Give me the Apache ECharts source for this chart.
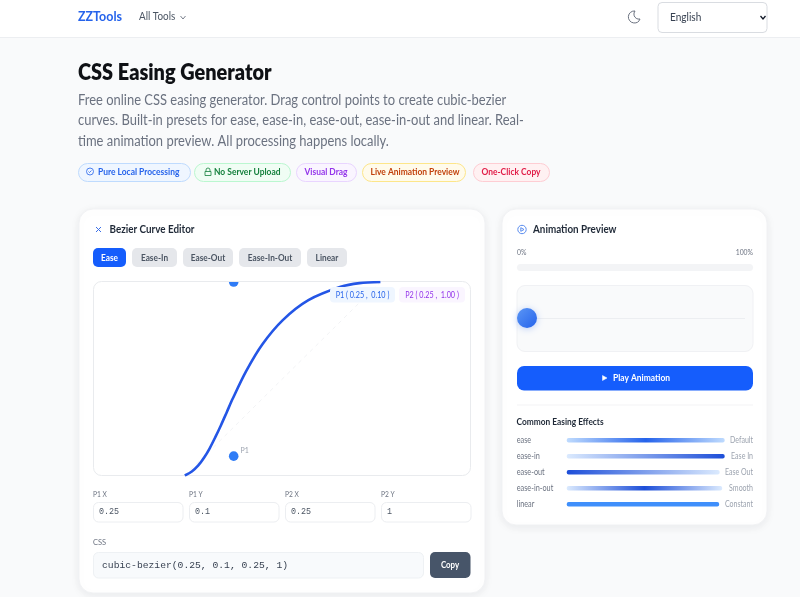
<!DOCTYPE html>
<html>
<head>
<meta charset="utf-8">
<title>CSS Easing Generator</title>
<script src="https://cdn.jsdelivr.net/npm/echarts@6/dist/echarts.min.js"></script>
<style>
html, body { margin: 0; padding: 0; background: #f9fafb; }
#main { width: 800px; height: 597px; }
</style>
</head>
<body>
<div id="main"></div>
<script>
var curveX = [0, 0.036, 0.069, 0.099, 0.128, 0.156, 0.185, 0.214, 0.244, 0.313, 0.396, 0.501, 0.632, 0.797, 0.893, 1];
var curveY = [0, 0.021, 0.052, 0.093, 0.142, 0.198, 0.26, 0.326, 0.395, 0.538, 0.677, 0.803, 0.906, 0.975, 0.994, 1];
var diagonalX = [0, 1];
var diagonalY = [0, 1];
var controlX = [0.25, 0.25];
var controlY = [0.1, 1];
var controlNames = ['P1', ''];

var presetNames = ['Ease', 'Ease-In', 'Ease-Out', 'Ease-In-Out', 'Linear'];
var inputNames = ['P1 X', 'P1 Y', 'P2 X', 'P2 Y'];
var inputValues = ['0.25', '0.1', '0.25', '1'];
var cssValue = 'cubic-bezier(0.25, 0.1, 0.25, 1)';

var easingNames = ['ease', 'ease-in', 'ease-out', 'ease-in-out', 'linear'];
var easingNotes = ['Default', 'Ease In', 'Ease Out', 'Smooth', 'Constant'];
var easingLengths = [158, 158, 153, 155.5, 152.5];

var descLines = [
    'Free online CSS easing generator. Drag control points to create cubic-bezier',
    'curves. Built-in presets for ease, ease-in, ease-out, ease-in-out and linear. Real-',
    'time animation preview. All processing happens locally.'
];
var badgeNames = ['Pure Local Processing', 'No Server Upload', 'Visual Drag', 'Live Animation Preview', 'One-Click Copy'];

var FONT = 'Lato, "Noto Sans", sans-serif';
var MONO = '"Liberation Mono", monospace';

function grad(stops) {
    var list = [];
    for (var i = 0; i < stops.length; i++) {
        list.push({ offset: stops[i][0], color: stops[i][1] });
    }
    return { type: 'linear', x: 0, y: 0, x2: 1, y2: 0, colorStops: list };
}
var easingColors = [
    grad([[0, '#bfdbfe'], [0.5, '#2563eb'], [1, '#bfdbfe']]),
    grad([[0, '#dbeafe'], [1, '#1d4ed8']]),
    grad([[0, '#1d4ed8'], [1, '#dbeafe']]),
    grad([[0, '#dbeafe'], [0.5, '#1d4ed8'], [1, '#dbeafe']]),
    grad([[0, '#3f8ffb'], [1, '#3f8ffb']])
];

// small icons, drawn around 0,0
var ICONS = {
    chevron: 'M-2.5 -1.5L0 1.5L2.5 -1.5',
    moon: 'M1 -6A6 6 0 1 0 6 2A5 5 0 0 1 1 -6Z',
    check: 'M-3.5 0A3.5 3.5 0 1 0 3.5 0A3.5 3.5 0 1 0 -3.5 0ZM-1.5 0L-0.5 1L1.5 -1',
    lock: 'M-3 -0.5H3V3.5H-3ZM-2 -0.5V-2A2 2 0 0 1 2 -2V-0.5',
    cross: 'M-2.5 -2.5L2.5 2.5M2.5 -2.5L-2.5 2.5',
    play: 'M-4.2 0A4.2 4.2 0 1 0 4.2 0A4.2 4.2 0 1 0 -4.2 0ZM-1.2 -1.8L2 0L-1.2 1.8Z',
    triangle: 'M-2 -2.5L2.5 0L-2 2.5Z'
};
for (var name in ICONS) {
    echarts.graphic.registerShape(name, echarts.graphic.extendPath(ICONS[name], {}));
}

var els = [];
function box(x, y, w, h, r, fill, stroke, extra) {
    var style = { fill: fill, stroke: stroke || null, lineWidth: stroke ? 1 : 0 };
    for (var k in (extra || {})) style[k] = extra[k];
    els.push({ type: 'rect', silent: true, z: (extra && extra.zz) || 0, shape: { x: x, y: y, width: w, height: h, r: r }, style: style });
}
// sx squeezes the text sideways, the reference font is narrower than Lato
function label(x, y, str, size, color, weight, sx, align, family, z) {
    els.push({
        type: 'text', silent: true, z: z || 1, x: x, y: y, scaleX: sx || 1,
        style: { text: str, fill: color, font: (weight || 400) + ' ' + size + 'px ' + (family || FONT), textAlign: align || 'left', textVerticalAlign: 'middle' }
    });
}
function icon(x, y, kind, color, lineWidth, fill) {
    els.push({
        type: kind, silent: true, z: 1, x: x, y: y,
        style: { fill: fill || 'none', stroke: color, lineWidth: lineWidth || 1 }
    });
}

// header
box(0, 0, 800, 37.5, 0, '#ffffff');
box(0, 37, 800, 1, 0, '#eceef1');
label(78, 17, 'ZZTools', 13, '#2563eb', 700, 0.96);
label(139, 17, 'All Tools', 10.5, '#4b5563', 400, 0.94);
icon(183, 17.5, 'chevron', '#6b7280', 0.9);
icon(634, 17, 'moon', '#6b7280', 1);
box(658, 2.5, 109, 30, 4, '#ffffff', '#d9dce1');
label(670, 17.5, 'English', 10.5, '#374151', 400, 0.96);
icon(763, 17.5, 'chevron', '#111827', 1.3);

// title block
label(78, 72.5, 'CSS Easing Generator', 22.5, '#0f1115', 800, 0.885);
for (var i = 0; i < descLines.length; i++) {
    label(78, 100 + i * 20.5, descLines[i], 14.8, '#6b7280', 400, 0.875);
}

// badges
var badgeX = [78, 194, 296, 362, 473];
var badgeW = [112, 96, 60, 103, 76];
var badgeTextX = [98, 214, 326, 415, 511];
var badgeFill = ['#eff6ff', '#f0fdf4', '#faf5ff', '#fffbeb', '#fff1f2'];
var badgeLine = ['#bfdbfe', '#bbf7d0', '#e9d5ff', '#fde68a', '#fecdd3'];
var badgeText = ['#2563eb', '#15803d', '#9333ea', '#c2410c', '#e11d48'];
for (i = 0; i < badgeNames.length; i++) {
    box(badgeX[i] + 0.5, 163.5, badgeW[i], 18, 9, badgeFill[i], badgeLine[i]);
    label(badgeTextX[i], 172, badgeNames[i], 9.6, badgeText[i], 700, 0.88, i === 0 || i === 1 ? 'left' : 'center');
}
icon(90, 171.5, 'check', '#2563eb', 0.8);
icon(208, 172, 'lock', '#15803d', 0.8);

// cards
var cardShadow = { shadowBlur: 10, shadowColor: 'rgba(15,23,42,0.07)', shadowOffsetY: 2 };
box(79, 209, 406, 384, 14, '#ffffff', '#f1f2f4', cardShadow);
box(502, 209, 265, 316, 14, '#ffffff', '#f1f2f4', cardShadow);

// editor card
icon(98.5, 229.5, 'cross', '#3b6fe8', 1);
label(109.5, 229.5, 'Bezier Curve Editor', 10.6, '#1f2937', 700, 0.93);
var presetX = [93, 132, 183, 239, 307];
var presetW = [33, 45, 50, 62, 40];
for (i = 0; i < presetNames.length; i++) {
    box(presetX[i], 248, presetW[i], 19, 5, i === 0 ? '#155dfc' : '#e5e7eb');
    label(presetX[i] + presetW[i] / 2, 257.5, presetNames[i], 9.3, i === 0 ? '#ffffff' : '#4b5563', 700, 0.89, 'center');
}
box(93.5, 281.5, 377, 194, 8, '#ffffff', '#e9ebee');
// box hides whatever sticks out over its top edge
box(226, 272, 15, 9, 0, '#ffffff', null, { zz: 5 });
box(226, 281, 15, 1, 0, '#e9ebee', null, { zz: 5 });
box(330, 287, 65, 15.5, 4, '#eff6ff', null, { zz: 10 });
label(362.5, 295, 'P1 ( 0.25 ,  0.10 )', 8.5, '#2563eb', 400, 0.85, 'center', null, 11);
box(399, 287, 66, 15.5, 4, '#faf5ff', null, { zz: 10 });
label(432, 295, 'P2 ( 0.25 ,  1.00 )', 8.5, '#9333ea', 400, 0.85, 'center', null, 11);

var inputX = [93, 189, 285, 381];
for (i = 0; i < inputNames.length; i++) {
    label(inputX[i], 494, inputNames[i], 8.3, '#6b7280', 400, 0.8);
    box(inputX[i] + 0.5, 502.5, 89.5, 19.5, 5, '#ffffff', '#eceef1');
    label(inputX[i] + 6, 511.5, inputValues[i], 8.4, '#4b5563', 400, 1, 'left', MONO);
}
label(93, 542, 'CSS', 8.3, '#6b7280', 400, 0.9);
box(93.5, 552.5, 330, 25.5, 5, '#f8fafc', '#eef1f4');
label(102, 565, cssValue, 9.7, '#374151', 400, 1, 'left', MONO);
box(430, 552, 40.5, 26, 5, '#475569');
label(450, 565, 'Copy', 9.3, '#ffffff', 700, 0.85, 'center');

// preview card
icon(522, 229.5, 'play', '#5b8def', 1);
label(533, 229.5, 'Animation Preview', 10.6, '#1f2937', 700, 0.93);
label(517, 252, '0%', 8.3, '#6b7280', 400, 0.82);
label(753, 252, '100%', 8.3, '#6b7280', 400, 0.82, 'right');
box(517, 264, 236, 7, 3.5, '#f3f4f6');
box(517, 285.5, 236, 66, 8, '#f9fafb', '#f0f1f4');
box(527, 318, 218, 1, 0, '#eceef1');
els.push({
    type: 'circle', silent: true, z: 2, shape: { cx: 527, cy: 318, r: 10 },
    style: {
        fill: { type: 'linear', x: 0, y: 0, x2: 1, y2: 1, colorStops: [{ offset: 0, color: '#5b96f5' }, { offset: 1, color: '#2563eb' }] },
        shadowBlur: 7, shadowColor: 'rgba(37,99,235,0.3)', shadowOffsetY: 1
    }
});
box(517, 366, 236, 24.5, 7, '#155dfc');
icon(604.5, 378, 'triangle', '#ffffff', 0.5, '#ffffff');
label(613, 378, 'Play Animation', 9.6, '#ffffff', 700, 0.88);
box(517, 404.5, 236, 1, 0, '#f3f4f6');
label(516.5, 421.5, 'Common Easing Effects', 9.4, '#1f2937', 700, 0.89);

var chart = echarts.init(document.getElementById('main'));
var option = {
    animation: false,
    backgroundColor: '#f9fafb',
    textStyle: { fontFamily: FONT },
    grid: [
        { left: 184.8, top: 282, width: 195.6, height: 193.5 },
        { left: 566.7, top: 432.3, width: 158.3, height: 80 }
    ],
    xAxis: [
        { gridIndex: 0, type: 'value', min: 0, max: 1, show: false },
        { gridIndex: 1, type: 'value', min: 0, max: 158.3, show: false }
    ],
    yAxis: [
        { gridIndex: 0, type: 'value', min: 0, max: 1, show: false },
        {
            gridIndex: 1, type: 'category', inverse: true, data: easingNames,
            axisLine: { show: false }, axisTick: { show: false }, axisLabel: { show: false }
        }
    ],
    series: [
        {
            type: 'line', xAxisIndex: 0, yAxisIndex: 0, symbol: 'none',
            lineStyle: { color: '#f2f3f5', width: 1, type: [4, 4] },
            data: diagonalX.map(function (x, i) { return [x, diagonalY[i]]; })
        },
        {
            type: 'line', xAxisIndex: 0, yAxisIndex: 0, symbol: 'none', smooth: 0.3, clip: true,
            lineStyle: { color: '#2456e6', width: 2.6 },
            data: curveX.map(function (x, i) { return [x, curveY[i]]; })
        },
        {
            type: 'scatter', xAxisIndex: 0, yAxisIndex: 0, symbolSize: 9.6, clip: true,
            itemStyle: { color: '#2f7cf6', opacity: 1 },
            label: {
                show: true, position: 'right', distance: 2, offset: [0, -5], fontSize: 7, color: '#9ca3af',
                formatter: function (p) { return controlNames[p.dataIndex]; }
            },
            data: controlX.map(function (x, i) { return [x, controlY[i]]; })
        },
        {
            type: 'bar', xAxisIndex: 1, yAxisIndex: 1, barWidth: 4.4,
            itemStyle: { borderRadius: 2 },
            data: easingLengths.map(function (v, i) { return { value: v, itemStyle: { color: easingColors[i] } }; })
        }
    ]
};
chart.setOption(option);

// row labels take their height from the category axis, squeezed like the rest of the text
for (i = 0; i < easingNames.length; i++) {
    var rowY = chart.convertToPixel({ yAxisIndex: 1 }, easingNames[i]);
    label(516.7, rowY, easingNames[i], 8.8, '#6b7280', 400, 0.83);
    label(753, rowY, easingNotes[i], 8.8, '#9ca3af', 400, 0.8, 'right');
}
chart.setOption({ graphic: { elements: els } });

window.addEventListener('resize', function () {
    chart.resize();
});
</script>
</body>
</html>
